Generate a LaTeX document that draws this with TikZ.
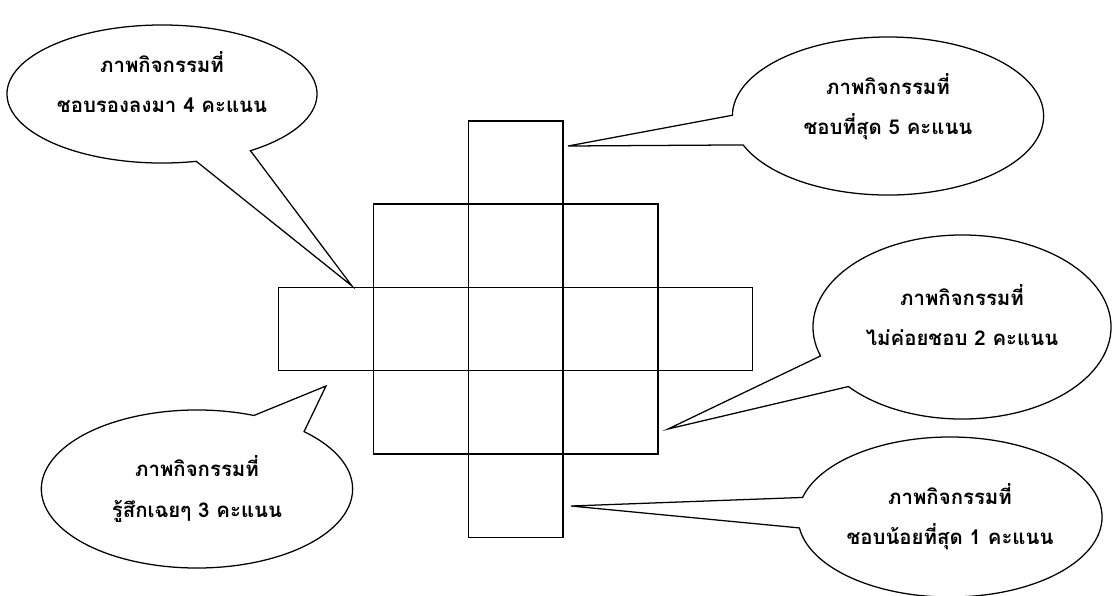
\documentclass[tikz,border=0pt]{standalone}
\usepackage{fontspec}
\usepackage{tikz}
\usetikzlibrary{shapes.callouts}
\newfontfamily\thaifont[Script=Thai]{Loma}

\begin{document}
\begin{tikzpicture}[x=0.025cm,y=-0.025cm,
    textup/.style={text depth=17pt}]
\useasboundingbox (0,0) rectangle (1112,595);
\begin{scope}[every node/.style={rectangle,draw,line width=1pt,
              minimum width=2.37cm,minimum height=2.08cm,inner sep=0pt}]
    \node (s13) at (515.7,162.4) {};
    \node (s22) at (420.9,245.7) {};
    \node (s23) at (515.7,245.7) {};
    \node (s24) at (610.5,245.7) {};
    \node (s31) at (326.1,329.0) {};
    \node (s32) at (420.9,329.0) {};
    \node (s33) at (515.7,329.0) {};
    \node (s34) at (610.5,329.0) {};
    \node (s35) at (705.3,329.0) {};
    \node (s42) at (420.9,412.3) {};
    \node (s43) at (515.7,412.3) {};
    \node (s44) at (610.5,412.3) {};
    \node (s53) at (515.7,495.6) {};
\end{scope}
% pointer tips
\coordinate (p5) at (568,146);
\coordinate (p4) at (352,286);
\coordinate (p3) at (326,386);
\coordinate (p2) at (668,429);
\coordinate (p1) at (571,506);
\begin{scope}[every node/.style={ellipse callout,draw,line width=0.9pt,
              inner sep=0pt,align=center,callout pointer arc=22,
              font=\thaifont\bfseries\fontsize{14.5}{28.5}\selectfont}]
    \node[textup,minimum width=7.75cm,minimum height=3.45cm,
          callout absolute pointer={(p4)}] (c4) at (162,94)
          {ภาพกิจกรรมที่\\ชอบรองลงมา 4 คะแนน};
    \node[textup,minimum width=7.78cm,minimum height=3.95cm,
          callout absolute pointer={(p5)}] (c5) at (888,116)
          {ภาพกิจกรรมที่\\ชอบที่สุด 5 คะแนน};
    \node[minimum width=7.78cm,minimum height=3.95cm,
          callout absolute pointer={(p3)}] (c3) at (197,489)
          {ภาพกิจกรรมที่\\รู้สึกเฉยๆ 3 คะแนน};
    \node[textup,minimum width=7.45cm,minimum height=4.6cm,
          callout absolute pointer={(p2)}] (c2) at (962,327)
          {ภาพกิจกรรมที่\\ไม่ค่อยชอบ 2 คะแนน};
    \node[minimum width=7.6cm,minimum height=4cm,
          callout absolute pointer={(p1)}] (c1) at (950,517)
          {ภาพกิจกรรมที่\\ชอบน้อยที่สุด 1 คะแนน};
\end{scope}
\end{tikzpicture}
\end{document}
